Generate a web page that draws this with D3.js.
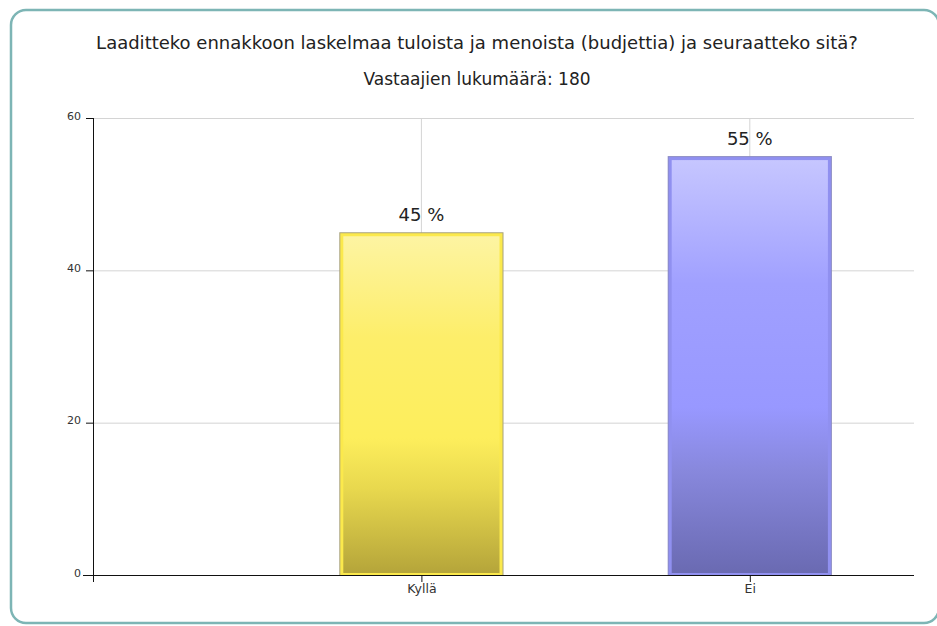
<!DOCTYPE html>
<meta charset="utf-8">
<script src="https://d3js.org/d3.v7.min.js"></script>
<style type="text/css">
body { margin: 0; background: #fff; }
svg text { font-family: "DejaVu Sans", Verdana, sans-serif; fill: #222; }
.axis path, .axis line { stroke: #111; }
.axis text { fill: #333; }
.x.axis text { font-size: 12.5px; }
.y.axis text { font-size: 11px; }
.grid line { stroke: #d4d4d4; stroke-width: 1px; }
.grid path { display: none; }
</style>
<body></body>
<script>

var title = "Laaditteko ennakkoon laskelmaa tuloista ja menoista (budjettia) ja seuraatteko sitä?";
var subtitle = "Vastaajien lukumäärä: 180";
var categories = ["Kyllä", "Ei"];
var values = [45, 55];
var yTicks = [0, 20, 40, 60];

var W = 937, H = 626;
var margin = {top: 118, right: 23, bottom: 51, left: 93};
var width = W - margin.left - margin.right,
    height = H - margin.top - margin.bottom;

var svg = d3.select("body").append("svg")
    .attr("width", W)
    .attr("height", H);

// gradients
var defs = svg.append("defs");
function grad(id, stops) {
    var g = defs.append("linearGradient").attr("id", id)
        .attr("x1", 0).attr("y1", 0).attr("x2", 0).attr("y2", 1);
    stops.forEach(function(s) {
        g.append("stop").attr("offset", s[0]).attr("stop-color", s[1]);
    });
}
grad("gYellow", [[0, "#fdf4a2"], [0.3, "#fdee6a"], [0.6, "#fdee5c"], [0.75, "#e8d84e"], [1, "#b5a53a"]]);
grad("gBlue", [[0, "#c6c6ff"], [0.3, "#a0a0ff"], [0.6, "#9898ff"], [0.75, "#8888dd"], [1, "#6a6ab2"]]);
var fills = ["url(#gYellow)", "url(#gBlue)"];
var borders = ["#fbe94c", "#9090f0"];
var edges = ["#a8a27a", "#8b8bc4"];

// outer frame
svg.append("rect")
    .attr("x", 11).attr("y", 10)
    .attr("width", 928).attr("height", 613)
    .attr("rx", 15).attr("ry", 15)
    .attr("fill", "none")
    .attr("stroke", "#7db5b5")
    .attr("stroke-width", 2.5);

svg.append("text")
    .attr("x", 477).attr("y", 49)
    .attr("text-anchor", "middle")
    .style("font-size", "18px")
    .text(title);

svg.append("text")
    .attr("x", 477).attr("y", 85)
    .attr("text-anchor", "middle")
    .style("font-size", "17px")
    .text(subtitle);

var g = svg.append("g")
    .attr("transform", "translate(" + margin.left + "," + margin.top + ")");

var xScale = d3.scalePoint()
    .domain([""].concat(categories))
    .range([0, width])
    .padding(0.25)
    .align(0);

var yScale = d3.scaleLinear()
    .domain([0, 60])
    .range([height, 0]);

// grid
g.append("g")
    .attr("class", "grid")
    .call(d3.axisLeft(yScale).tickValues(yTicks.slice(1)).tickSize(-width).tickFormat(""));

g.append("g")
    .attr("class", "grid")
    .selectAll("line")
    .data(categories)
    .enter()
    .append("line")
    .attr("x1", function(d) { return xScale(d); })
    .attr("x2", function(d) { return xScale(d); })
    .attr("y1", 0)
    .attr("y2", height);

var barW = xScale.step() * 0.5;

var bars = g.selectAll(".bar")
    .data(categories)
    .enter()
    .append("g")
    .attr("class", "bar");

bars.append("rect")
    .attr("x", function(d) { return xScale(d) - barW / 2; })
    .attr("y", function(d, i) { return yScale(values[i]); })
    .attr("width", barW)
    .attr("height", function(d, i) { return height - yScale(values[i]); })
    .attr("fill", function(d, i) { return edges[i]; });

bars.append("rect")
    .attr("x", function(d) { return xScale(d) - barW / 2 + 1; })
    .attr("y", function(d, i) { return yScale(values[i]) + 1; })
    .attr("width", barW - 2)
    .attr("height", function(d, i) { return height - yScale(values[i]) - 1; })
    .attr("fill", function(d, i) { return borders[i]; });

bars.append("rect")
    .attr("x", function(d) { return xScale(d) - barW / 2 + 4; })
    .attr("y", function(d, i) { return yScale(values[i]) + 4; })
    .attr("width", barW - 8)
    .attr("height", function(d, i) { return height - yScale(values[i]) - 6; })
    .attr("fill", function(d, i) { return fills[i]; });

bars.append("text")
    .attr("x", function(d) { return xScale(d); })
    .attr("y", function(d, i) { return yScale(values[i]) - 11; })
    .attr("text-anchor", "middle")
    .style("font-size", "18px")
    .text(function(d, i) { return values[i] + " %"; });

// axes
var xAxis = g.append("g")
    .attr("class", "x axis")
    .attr("transform", "translate(0," + height + ")")
    .call(d3.axisBottom(xScale).tickSize(7).tickSizeOuter(0).tickPadding(2));
xAxis.selectAll(".tick").filter(function(d) { return d === ""; }).remove();
xAxis.select(".domain").attr("d", "M-10,0.5H" + width);

var yAxis = g.append("g")
    .attr("class", "y axis")
    .call(d3.axisLeft(yScale).tickValues(yTicks).tickSize(7).tickSizeOuter(0).tickPadding(5));
yAxis.select(".domain").attr("d", "M0.5,0V" + (height + 7));
yAxis.selectAll(".tick text").attr("dy", "0.1em");

</script>
